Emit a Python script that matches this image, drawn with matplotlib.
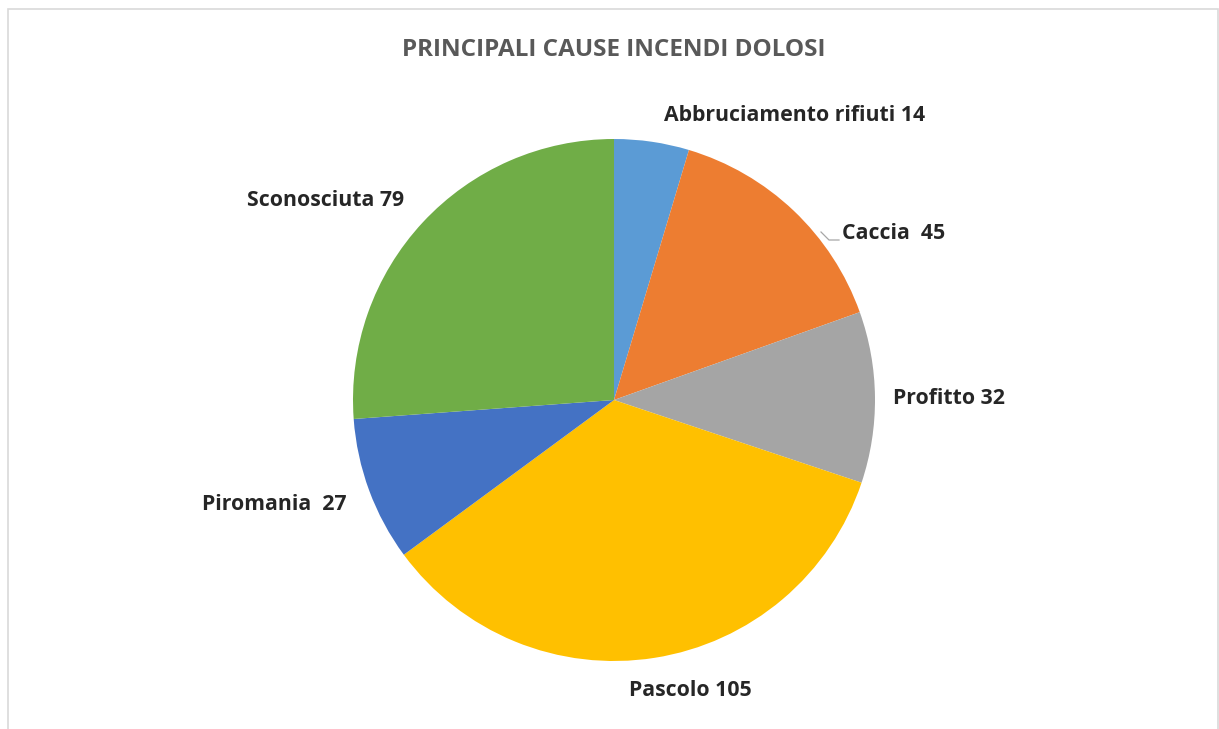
import matplotlib.pyplot as plt
from matplotlib.patches import Rectangle

# data
causes = ["Abbruciamento rifiuti", "Caccia", "Profitto", "Pascolo", "Piromania", "Sconosciuta"]
counts = [14, 45, 32, 105, 27, 79]
label_text = ["Abbruciamento rifiuti 14", "Caccia  45", "Profitto 32",
              "Pascolo 105", "Piromania  27", "Sconosciuta 79"]
colors = ["#5B9BD5", "#ED7D31", "#A5A5A5", "#FFC000", "#4472C4", "#70AD47"]

W, H = 1219, 729
fig = plt.figure(figsize=(W / 100, H / 100), dpi=100)
ax = fig.add_axes([0, 0, 1, 1])
ax.set_xlim(0, W)
ax.set_ylim(0, H)
ax.set_aspect("equal")
ax.axis("off")

# light chart-area border (Excel style)
fig.patches.append(Rectangle((8 / W, -0.05), (1218 - 8) / W, 1.05 - 9 / H,
                             transform=fig.transFigure, fill=False,
                             edgecolor="#d9d9d9", linewidth=1.2))

cx, cy, r = 614, H - 400, 261
ax.pie(counts, colors=colors, startangle=90, counterclock=False,
       center=(cx, cy), radius=r, frame=True,
       wedgeprops=dict(edgecolor="none", linewidth=0))
ax.set_xlim(0, W)
ax.set_ylim(0, H)
ax.axis("off")

font = "Open Sans"
# label positions in pixel coords (x, y from top, ha)
label_pos = [(795, 115, "center"), (842, 233, "left"), (893, 398, "left"),
             (690, 690, "center"), (347, 504, "right"), (404, 200, "right")]
for txt, (x, y, ha) in zip(label_text, label_pos):
    ax.text(x, H - y, txt, ha=ha, va="center", fontsize=15.3,
            fontweight="bold", color="#262626", family=font)

# leader line for Caccia
ax.plot([821, 829, 839], [H - 232, H - 240, H - 240], color="#a6a6a6", lw=0.9)

ax.text(614, H - 50, "PRINCIPALI CAUSE INCENDI DOLOSI", ha="center", va="center",
        fontsize=17.5, fontweight="bold", color="#595959", family=font)

fig.savefig("out.png", dpi=100, facecolor="white")
